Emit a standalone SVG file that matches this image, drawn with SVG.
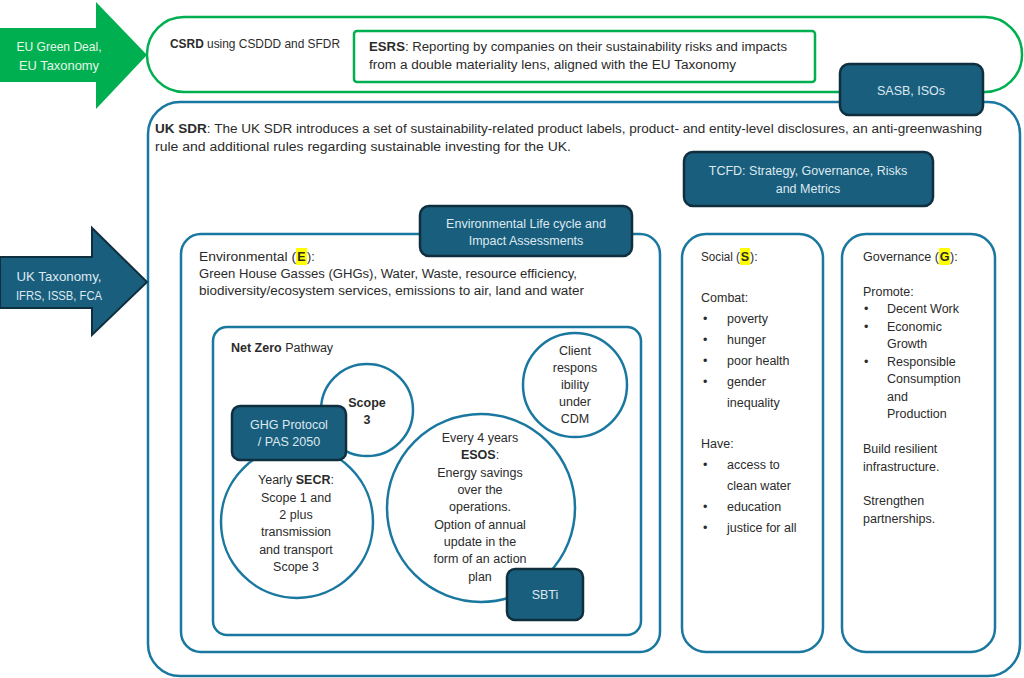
<svg xmlns="http://www.w3.org/2000/svg" width="1024" height="678" viewBox="0 0 1024 678">
<style>
text{font-family:"Liberation Sans",Arial,sans-serif;font-size:12.5px;fill:#2b2b2b}
.b{font-weight:bold}
.c{text-anchor:middle}
.w{fill:#dde9ef}
.frame{fill:none;stroke:#1a78a0;stroke-width:2.5}
.green{fill:none;stroke:#00b050;stroke-width:2.5}
.dark{fill:#1a5e7e;stroke:#0f2f3f;stroke-width:2.5}
.circ{fill:#fff;stroke:#1a78a0;stroke-width:2.5}
.hl{fill:#ffff00}
.arr{font-size:13px}
</style>
<rect width="1024" height="678" fill="#fff"/>

<g id="eu-arrow">
<polygon points="0,28 96,28 96,2 147,55 96,109 96,82 0,82" fill="#00b050"/>
<text class="c arr" x="59" y="51" textLength="85" lengthAdjust="spacingAndGlyphs" style="fill:#e6f5ea">EU Green Deal,</text>
<text class="c arr" x="59" y="70" textLength="80" lengthAdjust="spacingAndGlyphs" style="fill:#e6f5ea">EU Taxonomy</text>
</g>

<g id="csrd">
<rect class="green" x="147" y="17" width="875" height="75" rx="37" style="fill:#fff"/>
<text x="170" y="48" textLength="170" lengthAdjust="spacingAndGlyphs"><tspan class="b">CSRD</tspan> using CSDDD and SFDR</text>
</g>

<g id="esrs">
<rect class="green" x="354" y="31" width="461" height="51" rx="3"/>
<text x="369" y="51" textLength="418" lengthAdjust="spacingAndGlyphs"><tspan class="b">ESRS</tspan>: Reporting by companies on their sustainability risks and impacts</text>
<text x="369" y="69" textLength="367" lengthAdjust="spacingAndGlyphs">from a double materiality lens, aligned with the EU Taxonomy</text>
</g>

<g id="uk-sdr">
<rect class="frame" x="148" y="102" width="872" height="574" rx="32"/>
<text x="155" y="133" textLength="827" lengthAdjust="spacingAndGlyphs"><tspan class="b">UK SDR</tspan>: The UK SDR introduces a set of sustainability-related product labels, product- and entity-level disclosures, an anti-greenwashing</text>
<text x="155" y="151" textLength="416" lengthAdjust="spacingAndGlyphs">rule and additional rules regarding sustainable investing for the UK.</text>
</g>

<g id="sasb">
<rect class="dark" x="840" y="64" width="143" height="51" rx="9"/>
<text class="c w" x="911" y="95">SASB, ISOs</text>
</g>

<g id="uk-arrow">
<polygon points="0,257 92,257 92,228 147,282 92,335 92,308 0,308" fill="#1a5e7e" stroke="#0f2f3f" stroke-width="2"/>
<text class="c w arr" x="59" y="281" textLength="85" lengthAdjust="spacingAndGlyphs">UK Taxonomy,</text>
<text class="c w arr" x="59" y="300" textLength="86" lengthAdjust="spacingAndGlyphs">IFRS, ISSB, FCA</text>
</g>

<g id="tcfd">
<rect class="dark" x="684" y="152" width="249" height="54" rx="9"/>
<text class="c w" x="808" y="175">TCFD: Strategy, Governance, Risks</text>
<text class="c w" x="808" y="193">and Metrics</text>
</g>

<g id="environmental">
<rect class="frame" x="181" y="234" width="479" height="418" rx="20" style="fill:#fff"/>
<rect class="hl" x="296" y="248" width="11" height="17"/>
<text x="199" y="261" textLength="97" lengthAdjust="spacingAndGlyphs">Environmental (</text>
<text class="b c" x="301.5" y="261">E</text>
<text x="307" y="261">):</text>
<text x="199" y="278" textLength="378" lengthAdjust="spacingAndGlyphs">Green House Gasses (GHGs), Water, Waste, resource efficiency,</text>
<text x="199" y="295" textLength="385" lengthAdjust="spacingAndGlyphs">biodiversity/ecosystem services, emissions to air, land and water</text>
</g>

<g id="lca">
<rect class="dark" x="420" y="206" width="212" height="50" rx="9"/>
<text class="c w" x="526" y="228">Environmental Life cycle and</text>
<text class="c w" x="526" y="245">Impact Assessments</text>
</g>

<g id="net-zero">
<rect class="frame" x="213" y="327" width="428" height="308" rx="14"/>
<text x="231" y="352"><tspan class="b">Net Zero</tspan> Pathway</text>
</g>

<g id="scope3">
<circle class="circ" cx="367" cy="410" r="46"/>
<text class="c b" x="367" y="407">Scope</text>
<text class="c b" x="367" y="424">3</text>
</g>

<g id="client">
<circle class="circ" cx="575" cy="385" r="52"/>
<text class="c" x="575" y="355">Client</text>
<text class="c" x="575" y="372">respons</text>
<text class="c" x="575" y="389">ibility</text>
<text class="c" x="575" y="406">under</text>
<text class="c" x="575" y="423">CDM</text>
</g>

<g id="secr">
<circle class="circ" cx="297" cy="522" r="76"/>
<text class="c" x="296" y="484">Yearly <tspan class="b">SECR</tspan>:</text>
<text class="c" x="296" y="502">Scope 1 and</text>
<text class="c" x="296" y="519">2 plus</text>
<text class="c" x="296" y="536">transmission</text>
<text class="c" x="296" y="554">and transport</text>
<text class="c" x="296" y="571">Scope 3</text>
</g>

<g id="ghg">
<rect class="dark" x="232" y="406" width="114" height="54" rx="8"/>
<text class="c w" x="289" y="429">GHG Protocol</text>
<text class="c w" x="289" y="446">/ PAS 2050</text>
</g>

<g id="esos">
<circle class="circ" cx="481" cy="508" r="94"/>
<text class="c" x="480" y="442">Every 4 years</text>
<text class="c" x="480" y="459"><tspan class="b">ESOS</tspan>:</text>
<text class="c" x="480" y="477">Energy savings</text>
<text class="c" x="480" y="494">over the</text>
<text class="c" x="480" y="511">operations.</text>
<text class="c" x="480" y="529">Option of annual</text>
<text class="c" x="480" y="546">update in the</text>
<text class="c" x="480" y="563">form of an action</text>
<text class="c" x="480" y="581">plan</text>
</g>

<g id="sbti">
<rect class="dark" x="507" y="569" width="76" height="51" rx="8"/>
<text class="c w" x="545" y="599">SBTi</text>
</g>

<g id="social">
<rect class="frame" x="682" y="234" width="141" height="418" rx="24"/>
<rect class="hl" x="740" y="248" width="10" height="17"/>
<text x="701" y="261" textLength="39" lengthAdjust="spacingAndGlyphs">Social (</text>
<text class="b c" x="745" y="261">S</text>
<text x="750" y="261">):</text>
<text x="701" y="302">Combat:</text>
<text x="703" y="323">•</text><text x="727" y="323">poverty</text>
<text x="703" y="344">•</text><text x="727" y="344">hunger</text>
<text x="703" y="365">•</text><text x="727" y="365">poor health</text>
<text x="703" y="386">•</text><text x="727" y="386">gender</text>
<text x="727" y="407">inequality</text>
<text x="701" y="448">Have:</text>
<text x="703" y="469">•</text><text x="727" y="469">access to</text>
<text x="727" y="490">clean water</text>
<text x="703" y="511">•</text><text x="727" y="511">education</text>
<text x="703" y="532">•</text><text x="727" y="532">justice for all</text>
</g>

<g id="governance">
<rect class="frame" x="842" y="234" width="153" height="418" rx="24"/>
<rect class="hl" x="939" y="248" width="11" height="17"/>
<text x="863" y="261" textLength="76" lengthAdjust="spacingAndGlyphs">Governance (</text>
<text class="b c" x="944.5" y="261">G</text>
<text x="950" y="261">):</text>
<text x="863" y="296">Promote:</text>
<text x="864" y="313">•</text><text x="887" y="313">Decent Work</text>
<text x="864" y="331">•</text><text x="887" y="331">Economic</text>
<text x="887" y="348">Growth</text>
<text x="864" y="366">•</text><text x="887" y="366">Responsible</text>
<text x="887" y="383">Consumption</text>
<text x="887" y="401">and</text>
<text x="887" y="418">Production</text>
<text x="863" y="453">Build resilient</text>
<text x="863" y="471">infrastructure.</text>
<text x="863" y="505">Strengthen</text>
<text x="863" y="523">partnerships.</text>
</g>

<g id="connectors"></g>
</svg>
